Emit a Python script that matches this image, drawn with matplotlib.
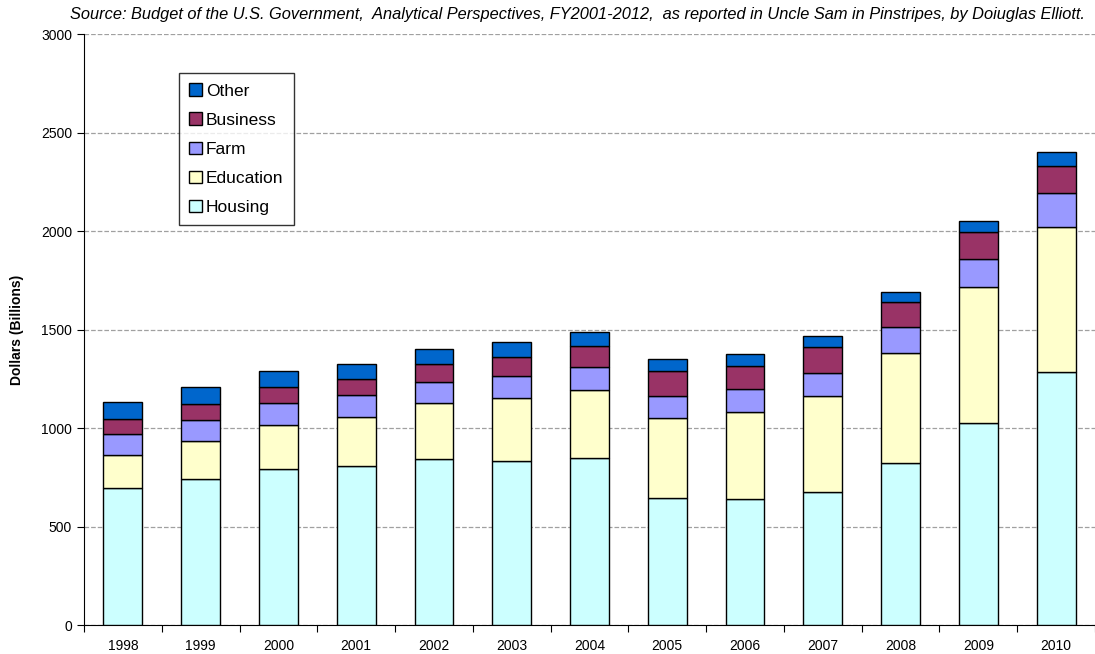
import matplotlib
matplotlib.use('Agg')
import matplotlib.pyplot as plt
import numpy as np

# data (billions of dollars)
years = ['1998', '1999', '2000', '2001', '2002', '2003', '2004',
         '2005', '2006', '2007', '2008', '2009', '2010']
housing = [697, 741, 790, 809, 841, 834, 846, 645, 640, 675, 822, 1027, 1283]
education = [168, 193, 225, 248, 284, 317, 347, 406, 441, 487, 559, 689, 736]
farm = [104, 105, 110, 112, 107, 111, 118, 111, 117, 119, 130, 142, 174]
business = [77, 81, 85, 80, 93, 100, 105, 126, 118, 130, 130, 135, 137]
other = [87, 88, 79, 76, 74, 75, 70, 61, 58, 57, 49, 58, 71]

series = [('Housing', housing, '#CCFFFF'),
          ('Education', education, '#FFFFCC'),
          ('Farm', farm, '#9999FF'),
          ('Business', business, '#993366'),
          ('Other', other, '#0066CC')]

plt.rcParams['font.family'] = ['Liberation Sans', 'DejaVu Sans']

fig = plt.figure(figsize=(10.95, 6.54), dpi=100)
ax = fig.add_axes([0.0767, 0.0443, 0.9233, 0.9037])

x = np.arange(len(years))
bottom = np.zeros(len(years))
handles = []
for name, vals, color in series:
    b = ax.bar(x, vals, 0.5, bottom=bottom, color=color,
               edgecolor='black', linewidth=1.0, label=name, zorder=3)
    handles.append(b)
    bottom += np.array(vals)

ax.set_xlim(-0.5, len(years) - 0.5)
ax.set_ylim(0, 3000)
ax.set_yticks(np.arange(0, 3001, 500))
ax.tick_params(axis='y', labelsize=10, direction='out', length=5)

# tick marks between categories, labels at category centres
ax.set_xticks(np.arange(-0.5, len(years), 1.0))
ax.set_xticklabels([])
ax.set_xticks(x, minor=True)
ax.set_xticklabels(years, minor=True, fontsize=10)
ax.tick_params(axis='x', which='major', length=5, direction='out')
ax.tick_params(axis='x', which='minor', length=0, pad=10)

ax.grid(axis='y', linestyle='--', color='#A0A0A0', linewidth=0.9, zorder=0)
ax.spines['top'].set_visible(False)
ax.spines['right'].set_visible(False)

ax.set_ylabel('Dollars (Billions)', fontsize=10, fontweight='bold', labelpad=12)

fig.text(0.527, 0.978, 'Source: Budget of the U.S. Government,  Analytical Perspectives, FY2001-2012,  '
         'as reported in Uncle Sam in Pinstripes, by Doiuglas Elliott.',
         ha='center', va='center', fontsize=11.8, style='italic')

leg = ax.legend(handles[::-1], [s[0] for s in series][::-1],
                loc='upper left', bbox_to_anchor=(0.094, 0.934),
                borderaxespad=0,
                fontsize=12.5, frameon=True, fancybox=False, edgecolor='black',
                handlelength=0.7, handleheight=0.7, handletextpad=0.25,
                labelspacing=0.8, borderpad=0.6)
leg.get_frame().set_linewidth(1.0)

fig.savefig('out.png', dpi=100)
